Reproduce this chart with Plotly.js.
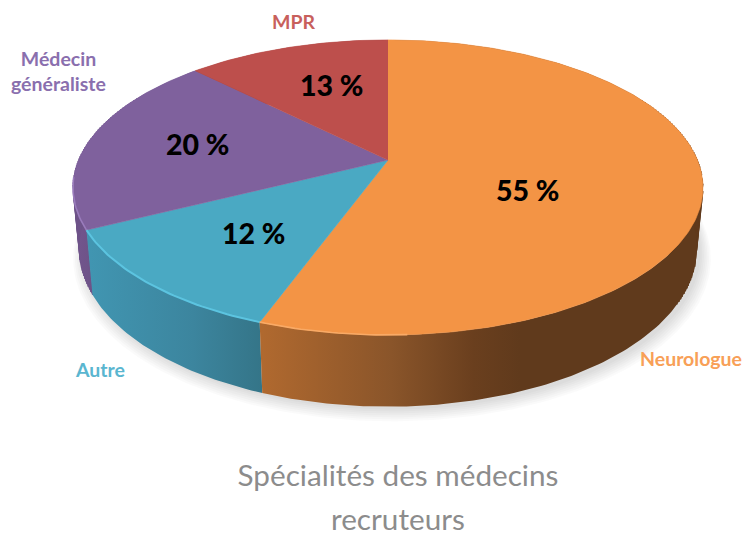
<!DOCTYPE html>
<html><head><meta charset="utf-8">
<script src="https://cdn.plot.ly/plotly-3.0.1.min.js"></script>
<style>html,body{margin:0;padding:0;background:#fff}#c{width:745px;height:536px}</style>
</head><body><div id="c"></div>
<script>
const categories = ['Neurologue', 'Autre', 'Médecin<br>généraliste', 'MPR'];
const values = [55, 12, 20, 13];
const percentLabels = ['55 %', '12 %', '20 %', '13 %'];
const topColors = ['#f39445', '#4aa9c3', '#7f619d', '#bd4f4c'];
const labelColors = ['#f8a057', '#5ab6d0', '#8a6fae', '#c8605c'];
const wallScales = [
  [[0, '#b0692f'], [0.5, '#8a552a'], [0.82, '#6a3f1e'], [1, '#603a1c']],
  [[0, '#4196b2'], [0.6, '#3c859e'], [1, '#347487']],
  [[0, '#74568f'], [1, '#6c5286']],
  [[0, '#8f3b39'], [1, '#8f3b39']]
];
const wallRanges = [[262, 520], [85, 265], [72, 95], [190, 390]];
const labelPos = [[691, 358], [100, 369], [58, 71], [293, 21]];
const pctPos = [[527, 190], [253, 233], [197, 144], [331, 85]];

// Perspective view of the disc: apex, radii, vanishing factor, in-plane skew of the interior boundaries
const cx = 388, cy = 160, Rx = 309.5, Ry = 142.4, k = 0.186, skew = 0.035;
function topPt(t) {
  const X = Math.sin(t), Y = Math.cos(t), w = 1 + k * Y;
  return [cx + Rx * X / w, cy - Ry * Y / w];
}
function botPt(t) {
  const p = topPt(t);
  return [cx + (p[0] - cx) * 0.98, p[1] + 60 + 0.067 * (p[1] - cy)];
}
function arc(fn, a, b) {
  const n = Math.max(2, Math.ceil(Math.abs(b - a) * 60)), pts = [];
  for (let i = 0; i <= n; i++) pts.push(fn(a + (b - a) * i / n));
  return pts;
}
const total = values.reduce((s, v) => s + v, 0);
const bounds = [0];
let acc = 0;
values.forEach((v, i) => {
  acc += v;
  bounds.push(i === values.length - 1 ? 2 * Math.PI : acc / total * 2 * Math.PI + skew);
});

const traces = [];
function poly(pts, extra) {
  traces.push(Object.assign({
    type: 'scatter', mode: 'lines', x: pts.map(p => p[0]), y: pts.map(p => p[1]),
    fill: 'toself', hoverinfo: 'skip', showlegend: false
  }, extra));
}
// soft shadow under the disc
for (let i = 0; i < 7; i++) {
  const g = 1 + i * 0.0055, dy = 3 + i * 1.5;
  const shadow = arc(t => {
    const p = botPt(t);
    return [cx + (p[0] - cx) * g + 4, cy + (p[1] - cy) * g + dy - i * 0.9];
  }, 0, 2 * Math.PI);
  poly(shadow, { line: { width: 0 }, fillcolor: 'rgba(0,0,0,0.018)' });
}
// silhouette ribbons joining top and bottom rims at the two extremes
function ribbon(a, b, color) {
  const top = arc(topPt, a, b), bot = arc(botPt, a, b), pts = [];
  top.forEach((p, i) => { pts.push(p); pts.push(bot[i]); });
  poly(pts, { line: { width: 1, color: color }, fillcolor: color });
}
ribbon(1.1, 2.1, '#603a1c');
ribbon(bounds[2], 5.2, '#6e5389');
// side walls
[2, 3, 1, 0].forEach(i => {
  const pts = arc(topPt, bounds[i], bounds[i + 1]).concat(arc(botPt, bounds[i + 1], bounds[i]));
  poly(pts, {
    line: { width: 0 }, name: categories[i] + ' wall',
    fillgradient: { type: 'horizontal', colorscale: wallScales[i], start: wallRanges[i][0], stop: wallRanges[i][1] }
  });
});
// top faces
values.forEach((v, i) => {
  const pts = [[cx, cy]].concat(arc(topPt, bounds[i], bounds[i + 1]));
  poly(pts, { line: { width: 0.6, color: topColors[i] }, fillcolor: topColors[i], name: categories[i] });
});
// rim highlights on the lit side
function rim(a, b, color, width) {
  const pts = arc(topPt, a, b);
  traces.push({ type: 'scatter', mode: 'lines', x: pts.map(p => p[0]), y: pts.map(p => p[1]),
    line: { color: color, width: width }, hoverinfo: 'skip', showlegend: false });
}
rim(bounds[1], bounds[2], '#5cc4e0', 2);
rim(bounds[1] - 0.4, bounds[1], '#f9aa66', 1.6);
rim(bounds[2], bounds[2] + 0.35, '#9a7cbc', 1.6);

const annotations = [];
categories.forEach((c, i) => annotations.push({
  x: labelPos[i][0], y: labelPos[i][1], xref: 'x', yref: 'y', text: '<b>' + c + '</b>', showarrow: false,
  font: { family: 'Lato, Carlito, sans-serif', size: 19.5, color: labelColors[i] },
  xanchor: 'center', yanchor: 'middle', align: 'center'
}));
percentLabels.forEach((c, i) => annotations.push({
  x: pctPos[i][0], y: pctPos[i][1], xref: 'x', yref: 'y', text: c, showarrow: false,
  font: { family: 'Lato, Carlito, sans-serif', size: 28.5, color: '#000', weight: 900 },
  xanchor: 'center', yanchor: 'middle'
}));
annotations.push({
  x: 398, y: 518, xref: 'x', yref: 'y', text: 'recruteurs', showarrow: false,
  font: { family: 'Lato, Carlito, sans-serif', size: 29.7, color: '#8c8c8c' },
  xanchor: 'center', yanchor: 'middle'
});

const axis = { visible: false, showgrid: false, zeroline: false, fixedrange: true };
Plotly.newPlot('c', traces, {
  width: 745, height: 536, margin: { l: 0, r: 0, t: 0, b: 0 },
  paper_bgcolor: '#fff', plot_bgcolor: '#fff', showlegend: false,
  title: { text: 'Spécialités des médecins', x: 398 / 745, xanchor: 'center', y: 1 - 476 / 536, yanchor: 'middle', yref: 'container',
    font: { family: 'Lato, Carlito, sans-serif', size: 29.7, color: '#8c8c8c' } },
  xaxis: Object.assign({ range: [0, 745] }, axis),
  yaxis: Object.assign({ range: [536, 0] }, axis),
  annotations: annotations
}, { displayModeBar: false, staticPlot: true });
</script></body></html>
